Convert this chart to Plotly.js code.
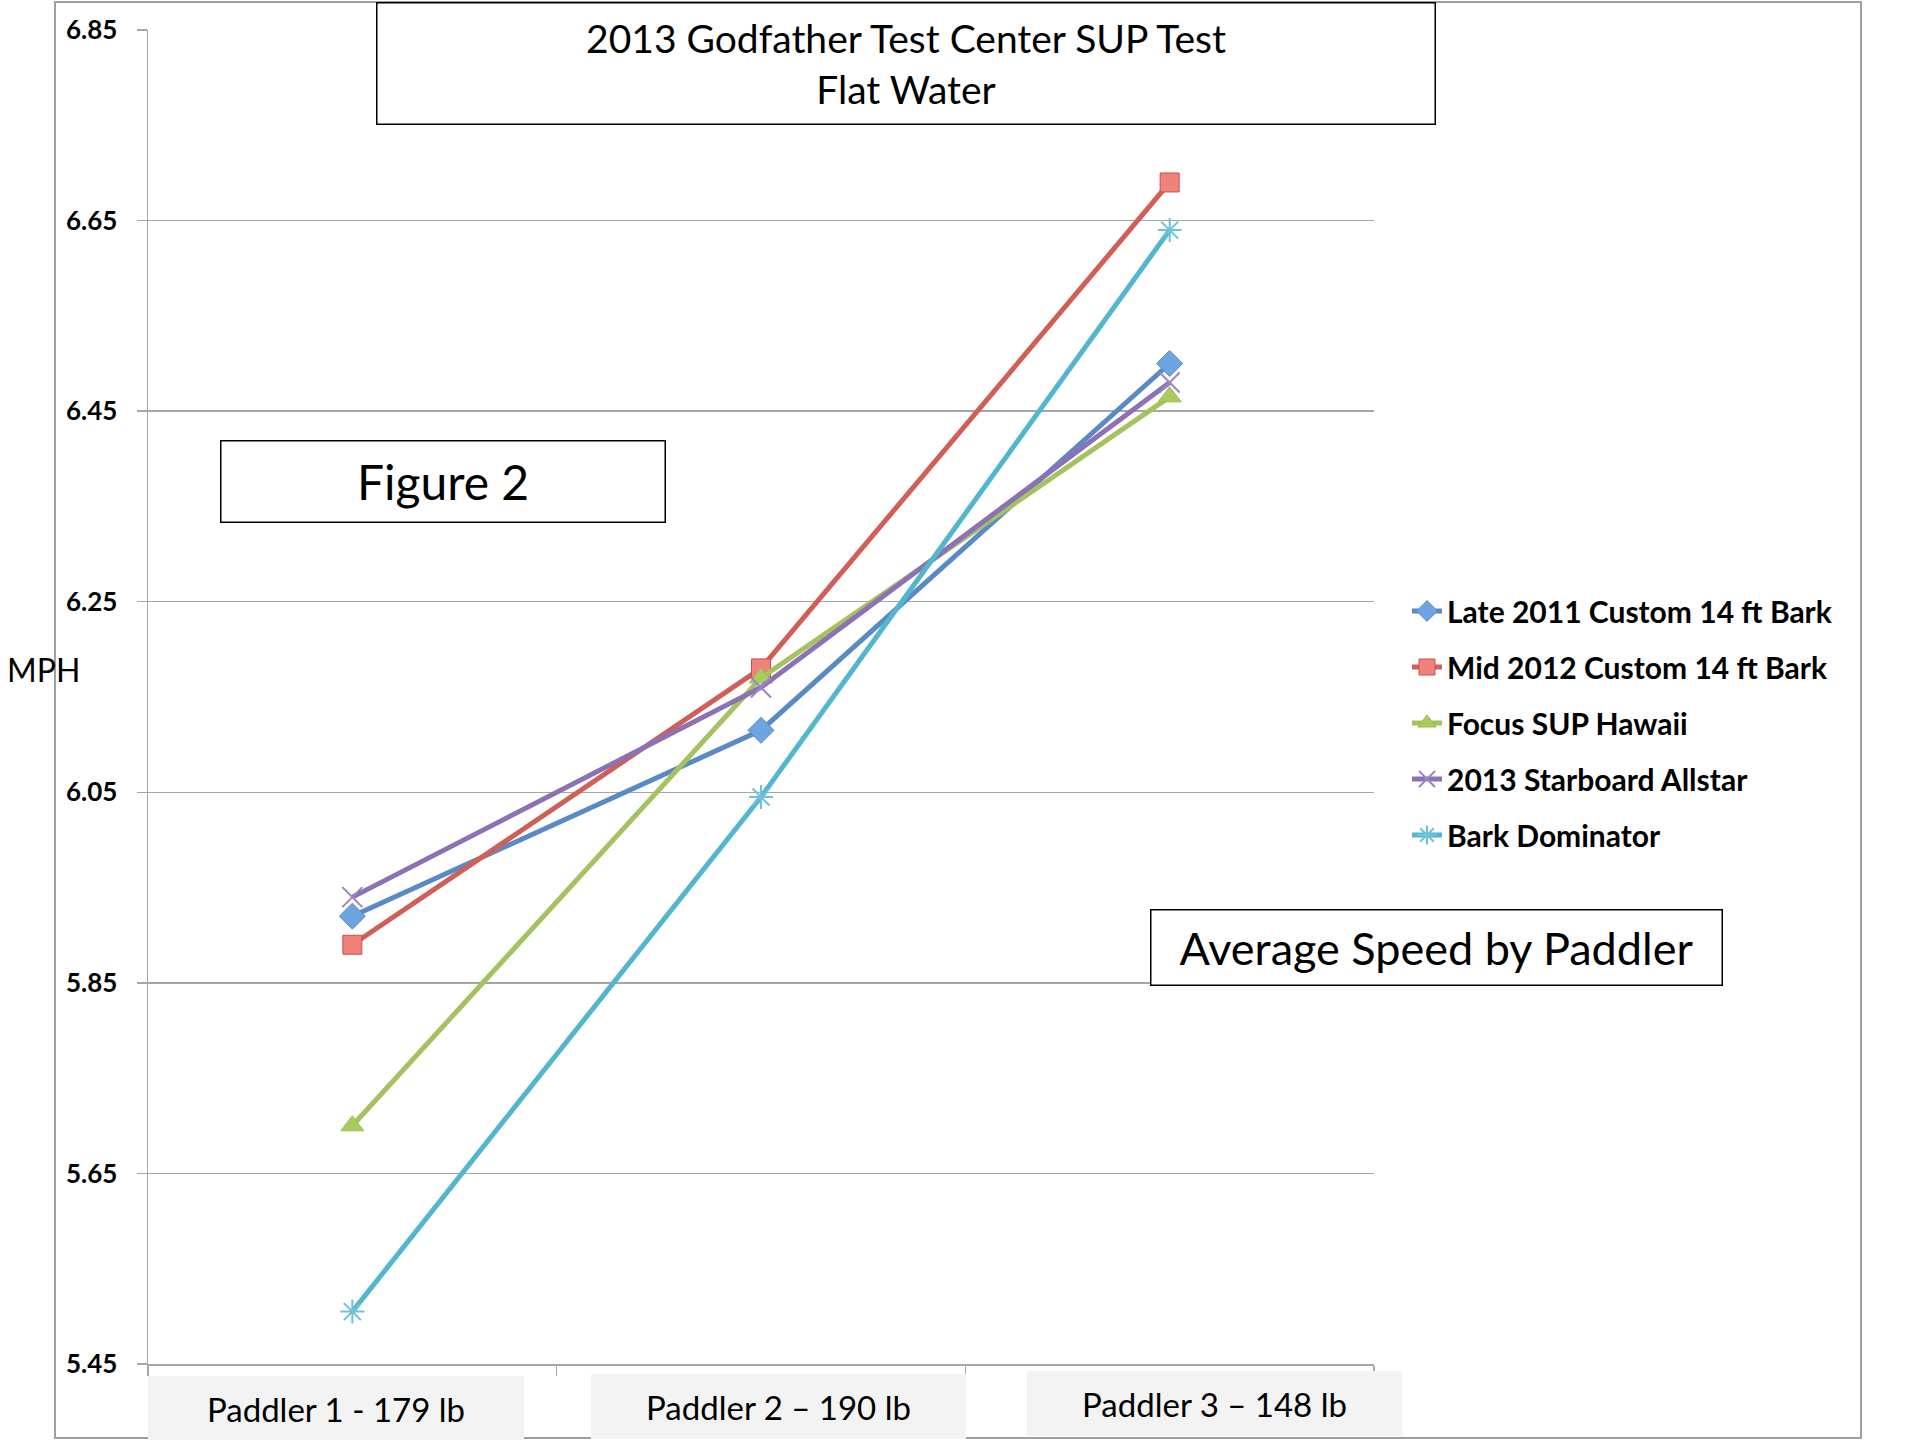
<!DOCTYPE html>
<html>
<head>
<meta charset="utf-8">
<script src="https://cdn.plot.ly/plotly-3.0.1.min.js"></script>
<style>html,body{margin:0;padding:0;background:#fff;}#chart{width:1920px;height:1440px;}</style>
</head>
<body>
<div id="chart"></div>
<script>
// ---- data ----
const categories = ["Paddler 1 - 179 lb", "Paddler 2 – 190 lb", "Paddler 3 – 148 lb"];
const seriesNames = ["Late 2011 Custom 14 ft Bark", "Mid 2012 Custom 14 ft Bark", "Focus SUP Hawaii", "2013 Starboard Allstar", "Bark Dominator"];
const late2011 = [5.92, 6.115, 6.50];
const mid2012 = [5.89, 6.18, 6.69];
const focusSup = [5.70, 6.17, 6.465];
const starboard = [5.94, 6.16, 6.48];
const dominator = [5.505, 6.045, 6.64];
const yTicks = [5.45, 5.65, 5.85, 6.05, 6.25, 6.45, 6.65, 6.85];
const titleLines = ["2013 Godfather Test Center SUP Test", "Flat Water"];

// ---- layout helpers (pixel -> paper) ----
const PL = 148, PR = 1374, PT = 30, PB = 1364;
const px = v => (v - PL) / (PR - PL);
const py = v => (PB - v) / (PB - PT);
const FONT = "Lato, 'Open Sans', sans-serif";

const styles = [
  {color: '#5a8ac6', symbol: 'diamond', size: 20, fill: '#6ea4e2', lw: 1, lc: '#5a8ac6'},
  {color: '#cf5f57', symbol: 'square', size: 19, fill: '#f0817b', lw: 1, lc: '#c9524a'},
  {color: '#a5c261', symbol: 'triangle-up', size: 20, fill: '#a9cc5e', lw: 1, lc: '#9cbb55'},
  {color: '#8c72b5', symbol: 'x-thin', size: 20, fill: '#8c72b5', lw: 2, lc: '#9a86c0'},
  {color: '#52b6cf', symbol: 'asterisk', size: 20, fill: '#52b6cf', lw: 2, lc: '#6cc3da'}
];
const values = [late2011, mid2012, focusSup, starboard, dominator];

const traces = values.map((vals, i) => ({
  type: 'scatter', mode: 'lines+markers',
  x: categories, y: vals, name: seriesNames[i],
  legendgroup: 'g' + i,
  line: {color: styles[i].color, width: 5},
  marker: {symbol: styles[i].symbol, size: styles[i].size, color: styles[i].fill,
           line: {width: styles[i].lw, color: styles[i].lc}},
  hoverinfo: 'skip'
}));

function box(text, cx, cy, w, h, size, opts) {
  return Object.assign({
    xref: 'paper', yref: 'paper', x: px(cx), y: py(cy), xanchor: 'center', yanchor: 'middle',
    text: text, showarrow: false, width: w, height: h, align: 'center', valign: 'middle',
    font: {family: FONT, size: size, color: '#000'},
    bordercolor: '#000', borderwidth: 1.5, borderpad: 0, bgcolor: '#fff'
  }, opts || {});
}

const catBox = {bordercolor: 'rgba(0,0,0,0)', borderwidth: 0, bgcolor: '#f3f3f3'};
const annotations = [
  box(titleLines.join('<br>'), 906, 64, 1057, 120, 39),
  box('Figure 2', 443, 482, 443, 80, 48),
  box('Average Speed by Paddler', 1436, 947, 570, 74, 45),
  {xref: 'paper', yref: 'paper', x: px(44), y: py(669), xanchor: 'center', yanchor: 'middle',
   text: 'MPH', showarrow: false, font: {family: FONT, size: 32, color: '#000'}},
  box(categories[0], 336, 1408, 376, 65, 33, catBox),
  box(categories[1], 778, 1406, 375, 65, 33, catBox),
  box(categories[2], 1214, 1404, 375, 65, 33, catBox)
];

const layout = {
  width: 1920, height: 1440,
  margin: {l: PL, r: 1920 - PR, t: PT, b: 1440 - PB, pad: 0},
  paper_bgcolor: '#fff', plot_bgcolor: '#fff',
  showlegend: true,
  legend: {x: px(1407), y: py(585), xanchor: 'left', yanchor: 'top',
           font: {family: FONT, size: 30, color: '#000', weight: 'bold'},
           tracegroupgap: 14, itemwidth: 30, bgcolor: 'rgba(0,0,0,0)'},
  xaxis: {type: 'category', range: [-0.5, 2.5], showgrid: false, zeroline: false,
          showline: true, linecolor: '#a6a6a6', linewidth: 2,
          ticks: 'outside', tickson: 'boundaries', ticklen: 10, tickcolor: '#a6a6a6', tickwidth: 1.5,
          showticklabels: false, fixedrange: true},
  yaxis: {range: [5.45, 6.85], tickmode: 'array', tickvals: yTicks,
          ticktext: yTicks.map(v => v.toFixed(2)),
          showgrid: true, gridcolor: '#a6a6a6', gridwidth: 1.5, zeroline: false,
          showline: true, linecolor: '#a6a6a6', linewidth: 1.5,
          ticks: 'outside', ticklen: 10, tickcolor: '#a6a6a6', tickwidth: 1.5,
          ticklabelstandoff: 14,
          tickfont: {family: FONT, size: 26, color: '#000', weight: 'bold'}, fixedrange: true},
  shapes: [
    {type: 'rect', xref: 'paper', yref: 'paper', x0: px(55), x1: px(1861), y0: py(1438), y1: py(2),
     line: {color: '#a0a0a0', width: 2}, fillcolor: 'rgba(0,0,0,0)', layer: 'below'}
  ],
  annotations: annotations,
  hovermode: false
};

Plotly.newPlot('chart', traces, layout, {displayModeBar: false, staticPlot: true});
</script>
</body>
</html>
